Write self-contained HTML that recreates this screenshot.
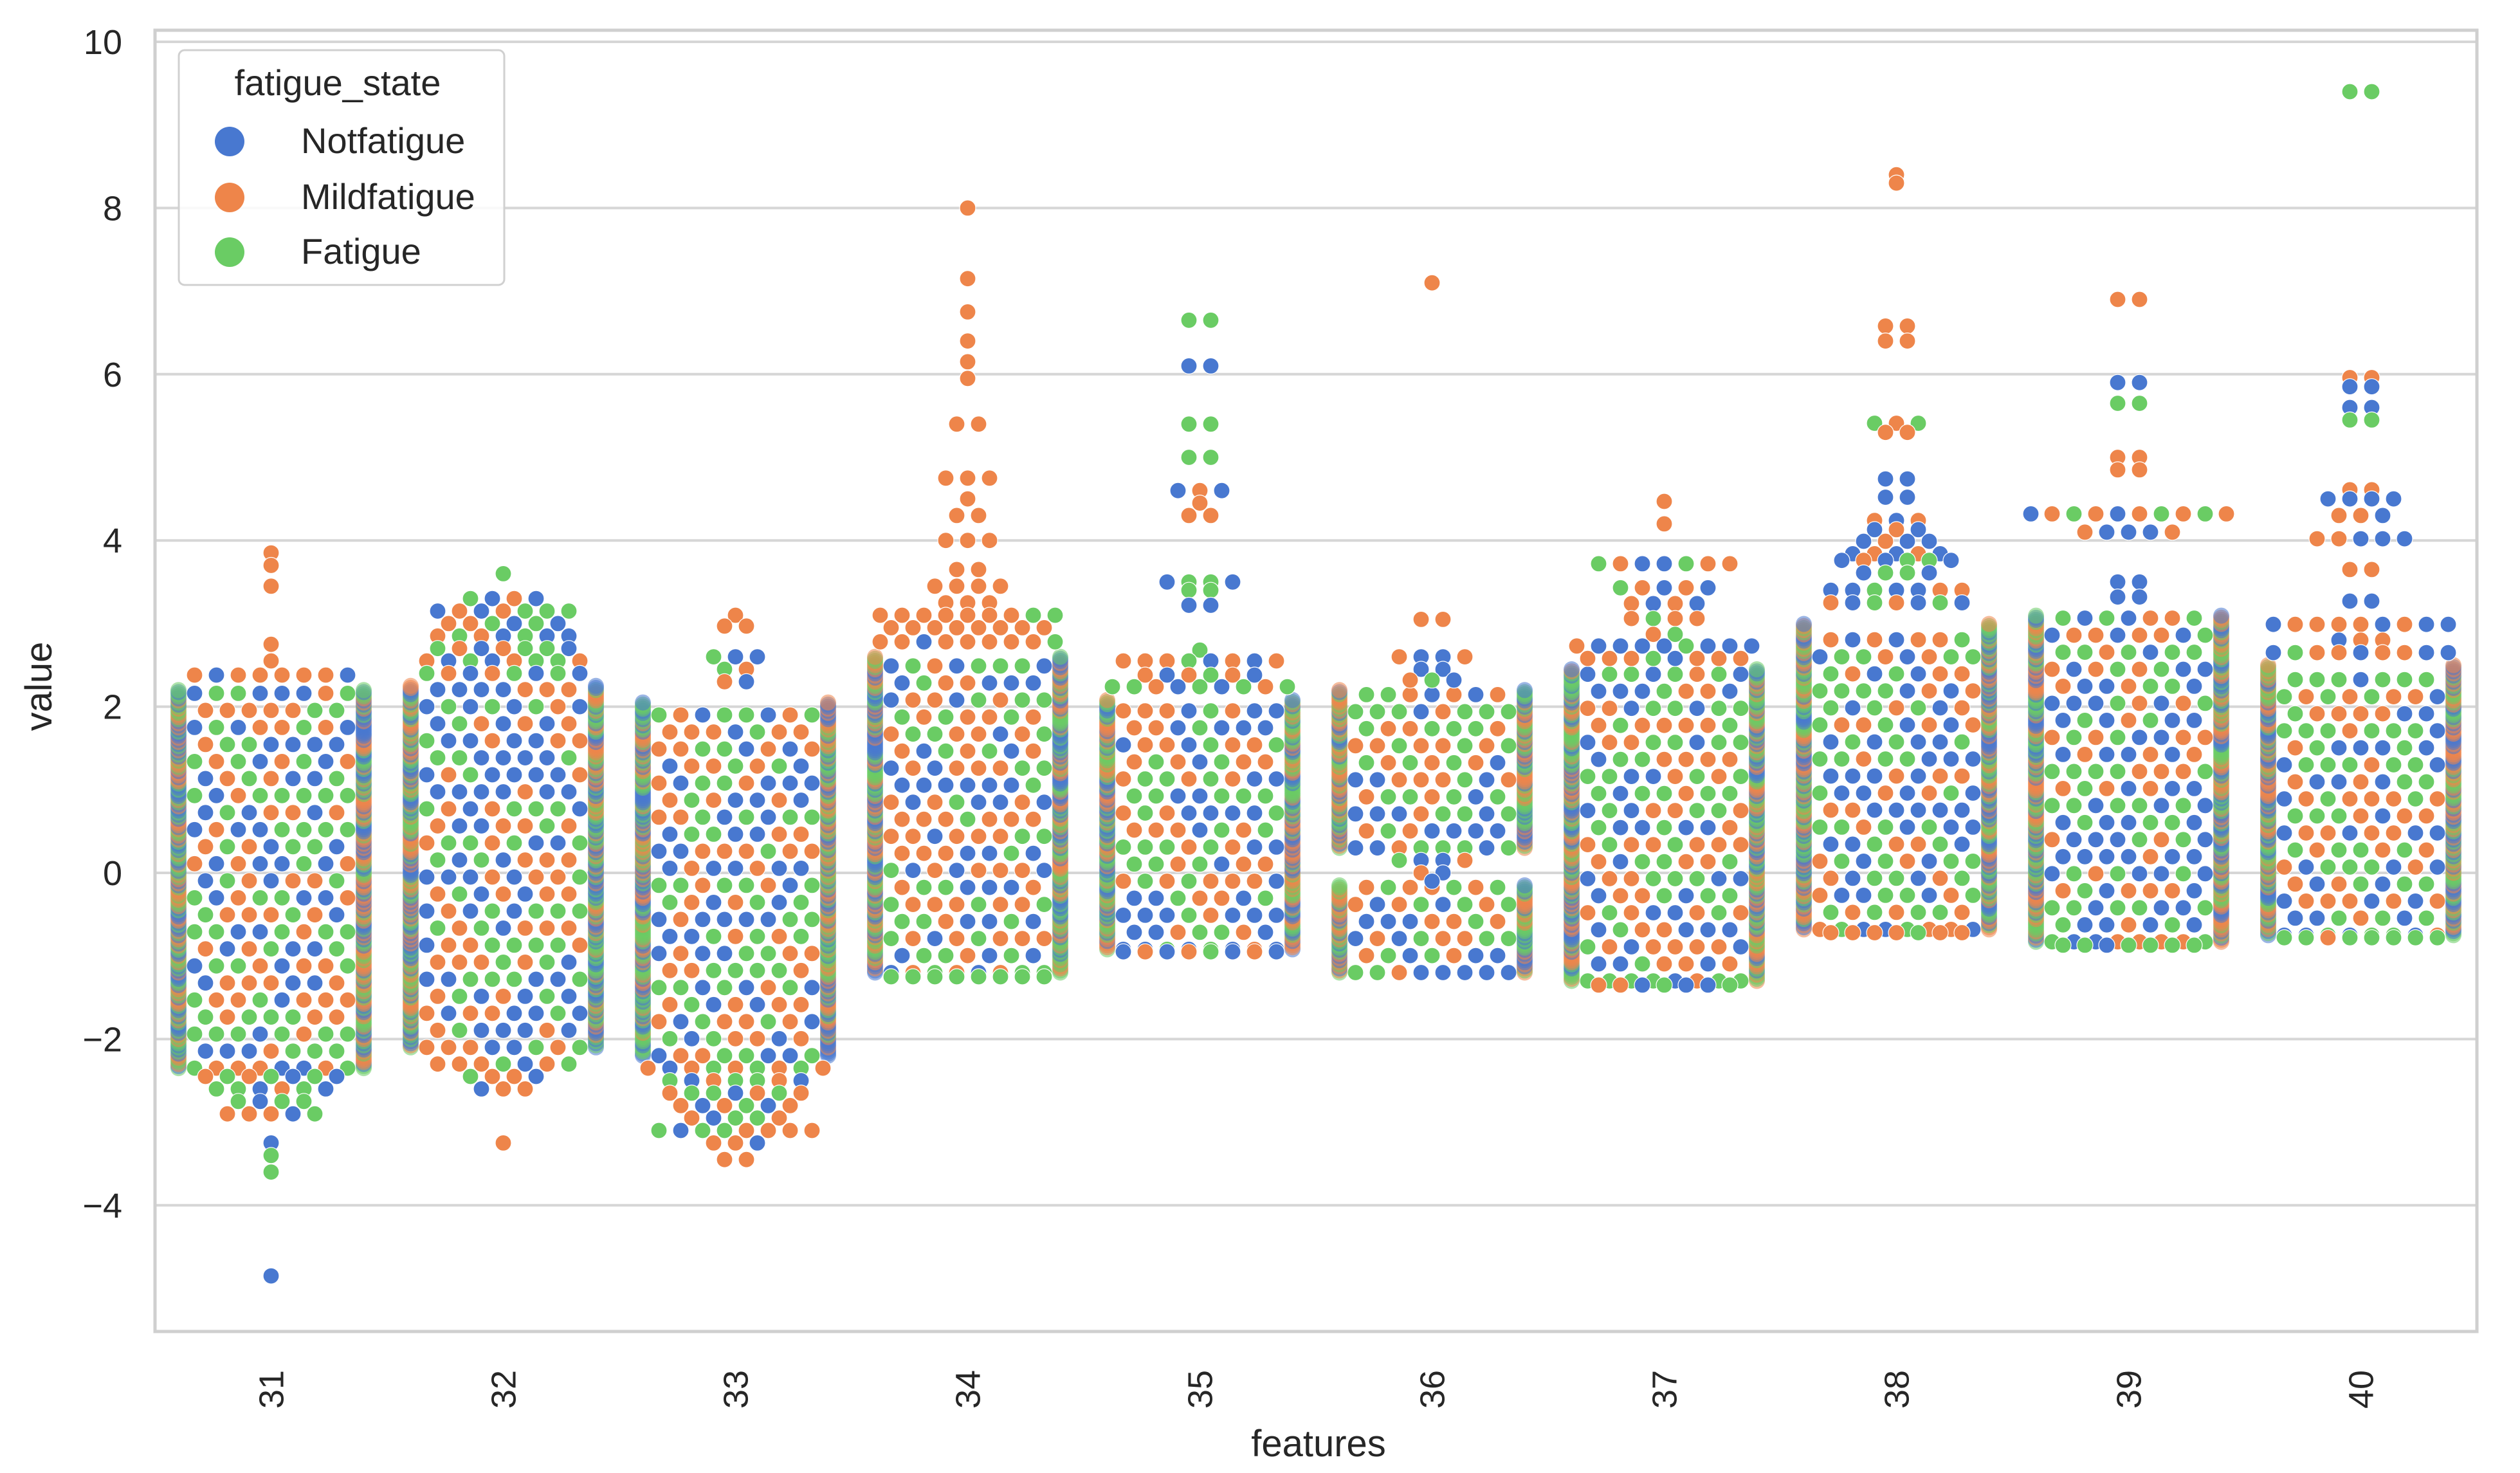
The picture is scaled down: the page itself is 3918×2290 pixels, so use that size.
<!DOCTYPE html>
<html><head><meta charset="utf-8">
<style>
html,body{margin:0;padding:0;background:#fff;}
svg{display:block;font-family:"Liberation Sans",sans-serif;}
</style></head>
<body>
<svg id="chart" width="3918" height="2290" viewBox="0 0 3918 2290" xmlns="http://www.w3.org/2000/svg">
<rect x="0" y="0" width="3918" height="2290" fill="#fff"/>
<g id="grid"></g>
<g id="marks"></g>
<rect x="241" y="47" width="3610" height="2023" fill="none" stroke="#cfcfcf" stroke-width="5"/>
<g id="axes"></g>
<text x="2050" y="2264" font-size="58" fill="#262626" text-anchor="middle">features</text>
<text x="0" y="0" font-size="58" fill="#262626" text-anchor="middle" transform="translate(80,1067) rotate(-90)">value</text>
<g>
<rect x="278" y="78" width="506" height="365" rx="9" fill="#fff" fill-opacity="0.85" stroke="#d0d0d0" stroke-width="3"/>
<text x="525" y="148" font-size="56" fill="#262626" text-anchor="middle">fatigue_state</text>
<circle cx="357" cy="220" r="23" fill="#4878d0"/>
<text x="468" y="238" font-size="56" fill="#262626">Notfatigue</text>
<circle cx="357" cy="307" r="23" fill="#ee854a"/>
<text x="468" y="325" font-size="56" fill="#262626">Mildfatigue</text>
<circle cx="357" cy="392" r="23" fill="#6acc64"/>
<text x="468" y="410" font-size="56" fill="#262626">Fatigue</text>
</g>
</svg>
<script>
const categories = ["31","32","33","34","35","36","37","38","39","40"];
const yTicks = [-4,-2,0,2,4,6,8,10];
// dense blocks [lo, hi] per category (value units)
const blocks = [
 [[-2.35,2.2]],
 [[-2.1,2.25]],
 [[-2.2,2.05]],
 [[-1.2,2.6]],
 [[-0.92,2.1]],
 [[0.3,2.2],[-1.2,-0.15]],
 [[-1.3,2.45]],
 [[-0.68,3.0]],
 [[-0.83,3.1]],
 [[-0.75,2.5]]
];
// tail rows: [value, hue letters]
const tails = [
 [[3.85,"O"],[3.7,"O"],[3.45,"O"],[2.75,"O"],[2.55,"O"],[2.38,"OBOOOOOB"],[-2.45,"OGOGBGB"],[-2.6,"GGBOGB"],[-2.75,"GBGG"],[-2.9,"OOOBG"],[-3.25,"B"],[-3.4,"G"],[-3.6,"G"],[-4.85,"B"]],
 [[3.6,"G"],[3.3,"GBOB"],[3.15,"BOBOGGG"],[3.0,"OOGBGB"],[2.85,"OGOBGBB"],[2.7,"GOBOGGB"],[2.55,"OBGBOGGO"],[2.4,"GOBOGBGB"],[-2.3,"OOOGBOG"],[-2.45,"GOOB"],[-2.6,"BOO"],[-3.25,"O"]],
 [[3.1,"O"],[2.97,"OO"],[2.6,"GBB"],[2.45,"GO"],[2.3,"OB"],[-2.35,"OBOGOGOGO"],[-2.5,"GBOGGOB"],[-2.65,"OGGBOGO"],[-2.8,"OBOGBO"],[-2.95,"OBGGO"],[-3.1,"GBGGOOOO"],[-3.25,"OOB"],[-3.45,"OO"]],
 [[8.0,"O"],[7.15,"O"],[6.75,"O"],[6.4,"O"],[6.15,"O"],[5.95,"O"],[5.4,"OO"],[4.75,"OOO"],[4.5,"O"],[4.3,"OO"],[4.0,"OOO"],[3.65,"OO"],[3.45,"OOOO"],[3.25,"OOO"],[3.1,"OOOOOOOGG"],[2.95,"OOOOOOOO"],[2.78,"OOBOOOOOG"],[-1.25,"GGGGGGGG"]],
 [[6.65,"GG"],[6.1,"BB"],[5.4,"GG"],[5.0,"GG"],[4.6,"BOB"],[4.45,"O"],[4.3,"OO"],[3.5,"BGGB"],[3.4,"GG"],[3.22,"BB"],[2.68,"G"],[2.55,"OOOGBOBO"],[2.38,"OBOGOB"],[2.24,"GGOBGBGOG"],[-0.95,"BOBOGBOB"]],
 [[7.1,"O"],[3.05,"OO"],[2.6,"OBBO"],[2.45,"BB"],[2.32,"OGB"],[0.15,"GBBO"],[0.0,"OB"],[-0.1,"B"]],
 [[4.47,"O"],[4.2,"O"],[3.72,"GOBBGOO"],[3.43,"GOBOB"],[3.24,"OBOB"],[3.06,"OGOO"],[2.87,"OG"],[2.73,"OBBBBGBBB"],[2.58,"OOOGBOOO"],[-1.35,"OOBGBBG"]],
 [[8.4,"O"],[8.3,"O"],[6.58,"OO"],[6.4,"OO"],[5.41,"GOG"],[5.3,"OO"],[4.74,"BB"],[4.52,"BB"],[4.24,"OBO"],[4.13,"BOB"],[3.99,"BOBB"],[3.84,"BOBOB"],[3.76,"BOBGGB"],[3.61,"BGGB"],[3.4,"BBGBBOO"],[3.25,"OBGOBGB"],[-0.72,"OOOOGOO"]],
 [[6.9,"OO"],[5.9,"BB"],[5.65,"GG"],[5.0,"OO"],[4.85,"OO"],[4.32,"OBOGOBOGOGOO"],[4.1,"OBBBO"],[3.5,"BB"],[3.32,"BB"],[-0.87,"GGBGGGG"]],
 [[9.4,"GG"],[5.96,"OO"],[5.85,"BB"],[5.6,"BB"],[5.45,"GG"],[4.61,"OO"],[4.5,"BBBB"],[4.3,"OOB"],[4.02,"OOBBB"],[3.65,"OO"],[3.27,"BB"],[2.99,"BOOOOBOBB"],[2.8,"BOO"],[2.65,"BGOOBOOBB"],[-0.78,"GGOGGGGG"]]
];
const hueColor = {B:"#4878d0", O:"#ee854a", G:"#6acc64"};
const hueName = {B:"notfatigue", O:"mildfatigue", G:"fatigue"};

const PL=241, PR=3851, Y0=1357, PPU=129.2;
function yScale(v){ return Y0 - v*PPU; }
function xScale(i){ const bw=(PR-PL)/categories.length; return PL + bw*(i+0.5); }

const NS="http://www.w3.org/2000/svg";
const grid=document.getElementById('grid'), axes=document.getElementById('axes'), marks=document.getElementById('marks');

yTicks.forEach(t=>{
  const y=yScale(t);
  const l=document.createElementNS(NS,'line');
  l.setAttribute('x1',PL); l.setAttribute('x2',PR); l.setAttribute('y1',y); l.setAttribute('y2',y);
  l.setAttribute('stroke','#d6d6d6'); l.setAttribute('stroke-width','4');
  
  
  grid.appendChild(l);
  const tx=document.createElementNS(NS,'text');
  tx.setAttribute('x',190); tx.setAttribute('y',y+19);
  tx.setAttribute('font-size','54'); tx.setAttribute('fill','#262626'); tx.setAttribute('text-anchor','end');
  tx.textContent=String(t).replace('-','\u2212');
  
  
  axes.appendChild(tx);
});
categories.forEach((c,i)=>{
  const x=xScale(i);
  const tx=document.createElementNS(NS,'text');
  tx.setAttribute('x',0); tx.setAttribute('y',0);
  tx.setAttribute('font-size','54'); tx.setAttribute('fill','#262626'); tx.setAttribute('text-anchor','middle');
  tx.setAttribute('transform',`translate(${x+19},2160) rotate(-90)`);
  tx.textContent=c;
  
  
  axes.appendChild(tx);
});

const R=12.5, SP=34, HW=144, ROW=0.205;
const H="BOG";
function pick(a,b,c){ let h=(a*73856093)^(b*19349663)^(c*83492791); h=(h^(h>>>13))*1274126177; h=h^(h>>>16); return H[Math.abs(h)%3]; }
function dot(x,y,hue,name,edge){
  const ci=document.createElementNS(NS,'circle');
  ci.setAttribute('cx',x.toFixed(1)); ci.setAttribute('cy',y.toFixed(1)); ci.setAttribute('r',R);
  ci.setAttribute('fill',hueColor[hue]);
  if(edge){ ci.setAttribute('fill-opacity','0.55'); }
  else { ci.setAttribute('stroke','#fff'); ci.setAttribute('stroke-width','1.2'); }
  
  
  marks.appendChild(ci);
}
categories.forEach((c,i)=>{
  const cx=xScale(i);
  blocks[i].forEach((b,bi)=>{
    const [lo,hi]=b;
    let r=0;
    for(let v=lo; v<=hi+1e-6; v+=ROW, r++){
      const odd=r%2;
      const xs = odd ? [-102,-68,-34,0,34,68,102] : [-119,-85,-51,-17,17,51,85,119];
      xs.forEach((dx,k)=>dot(cx+dx,yScale(v),pick(i+1,r+bi*50,k),'point-'+hueName[pick(i+1,r+bi*50,k)],false));
    }
    // overflow edge columns
    let k=0;
    for(let v=lo; v<=hi+1e-6; v+=0.025, k++){
      dot(cx-HW,yScale(v),pick(i+7,k,1),'edge-point',true);
      dot(cx+HW,yScale(v),pick(i+7,k,2),'edge-point',true);
    }
  });
  tails[i].forEach(([v,hs])=>{
    const n=hs.length;
    for(let k=0;k<n;k++){
      let dx=(k-(n-1)/2)*SP;
      dx=Math.max(-HW-8,Math.min(HW+8,dx));
      dot(cx+dx,yScale(v),hs[k],'point-'+hueName[hs[k]],false);
    }
  });
});
</script>
</body></html>
